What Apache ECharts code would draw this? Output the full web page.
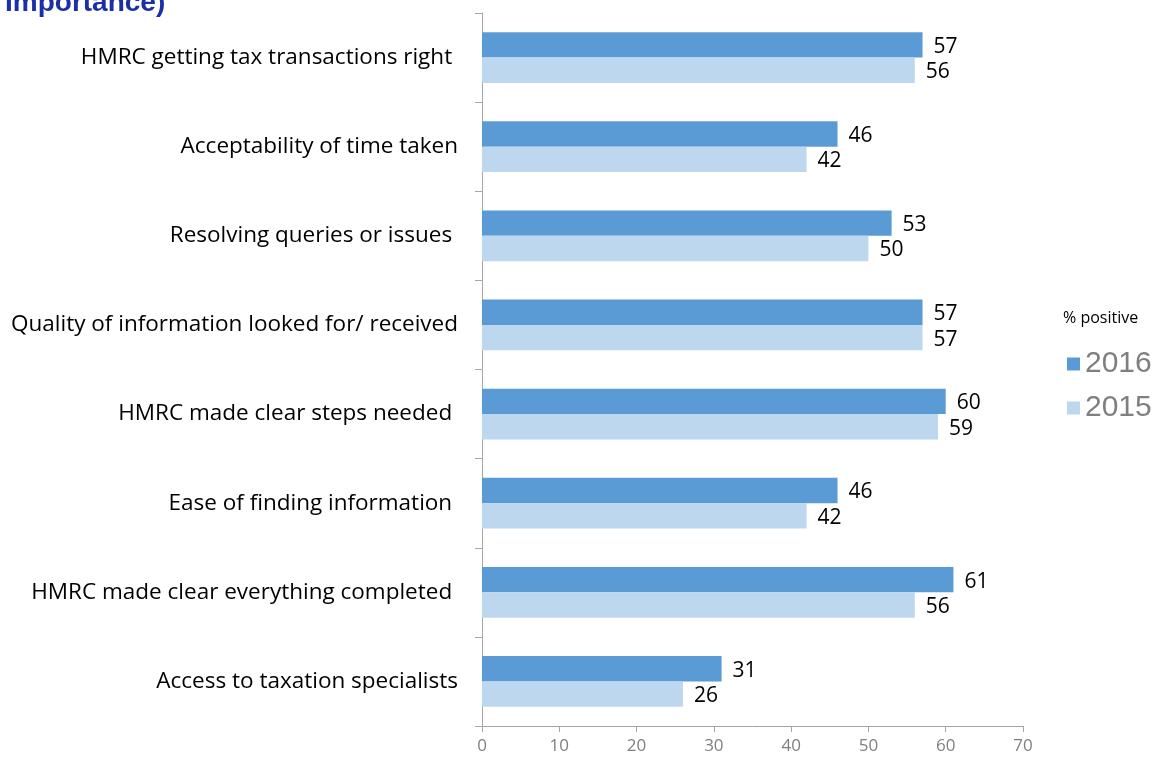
<!DOCTYPE html>
<html>
<head>
<meta charset="utf-8">
<script src="https://cdn.jsdelivr.net/npm/echarts@6/dist/echarts.min.js"></script>
<style>
  html, body { margin: 0; padding: 0; background: #fff; }
  #chart { width: 1154px; height: 760px; }
</style>
</head>
<body>
<div id="chart"></div>
<script>
const categories = [
  "HMRC getting tax transactions right ",
  "Acceptability of time taken",
  "Resolving queries or issues ",
  "Quality of information looked for/ received",
  "HMRC made clear steps needed ",
  "Ease of finding information ",
  "HMRC made clear everything completed ",
  "Access to taxation specialists"
]
const values2016 = [57, 46, 53, 57, 60, 46, 61, 31]
const values2015 = [56, 42, 50, 57, 59, 42, 56, 26]
const xTicks = { min: 0, max: 70, interval: 10 }

const labelFont = "Open Sans, sans-serif"
const axisGrey = "#a6a6a6"

const chart = echarts.init(document.getElementById("chart"))

chart.setOption({
  animation: false,
  title: {
    text: "Importance)",
    left: 0,
    top: -16,
    textStyle: { color: "#1a2fa8", fontSize: 28, fontWeight: "bold", fontFamily: "Liberation Sans, Arial, sans-serif" }
  },
  legend: {
    orient: "vertical",
    left: 1062,
    top: 344,
    itemWidth: 13,
    itemHeight: 13,
    itemGap: 14,
    icon: "rect",
    textStyle: { color: "#7f7f7f", fontSize: 30, fontFamily: "Liberation Sans, Arial, sans-serif" },
    data: ["2016", "2015"]
  },
  graphic: [
    {
      type: "text",
      left: 1063,
      top: 310,
      style: { text: "% positive", fill: "#000", font: "16px Open Sans, sans-serif" }
    }
  ],
  grid: { left: 482, right: 131, top: 13, bottom: 34, containLabel: false },
  xAxis: {
    type: "value",
    min: xTicks.min,
    max: xTicks.max,
    interval: xTicks.interval,
    axisLine: { show: true, lineStyle: { color: axisGrey } },
    axisTick: { show: true, length: 6, lineStyle: { color: axisGrey } },
    axisLabel: { color: "#7f7f7f", fontSize: 17, margin: 12, fontFamily: labelFont },
    splitLine: { show: false }
  },
  yAxis: {
    type: "category",
    inverse: true,
    data: categories,
    axisLine: { show: true, lineStyle: { color: axisGrey } },
    axisTick: { show: true, length: 7, lineStyle: { color: axisGrey } },
    axisLabel: { color: "#000", fontSize: 22.5, margin: 24, fontFamily: labelFont }
  },
  series: [
    {
      name: "2016",
      type: "bar",
      data: values2016,
      barGap: "0%",
      barCategoryGap: "43%",
      itemStyle: { color: "#5b9bd5" },
      label: { show: true, position: "right", distance: 11, offset: [0, 2], color: "#000", fontSize: 21, fontFamily: labelFont }
    },
    {
      name: "2015",
      type: "bar",
      data: values2015,
      barGap: "0%",
      barCategoryGap: "43%",
      itemStyle: { color: "#bdd7ee" },
      label: { show: true, position: "right", distance: 11, offset: [0, 2], color: "#000", fontSize: 21, fontFamily: labelFont }
    }
  ]
})
</script>
</body>
</html>
